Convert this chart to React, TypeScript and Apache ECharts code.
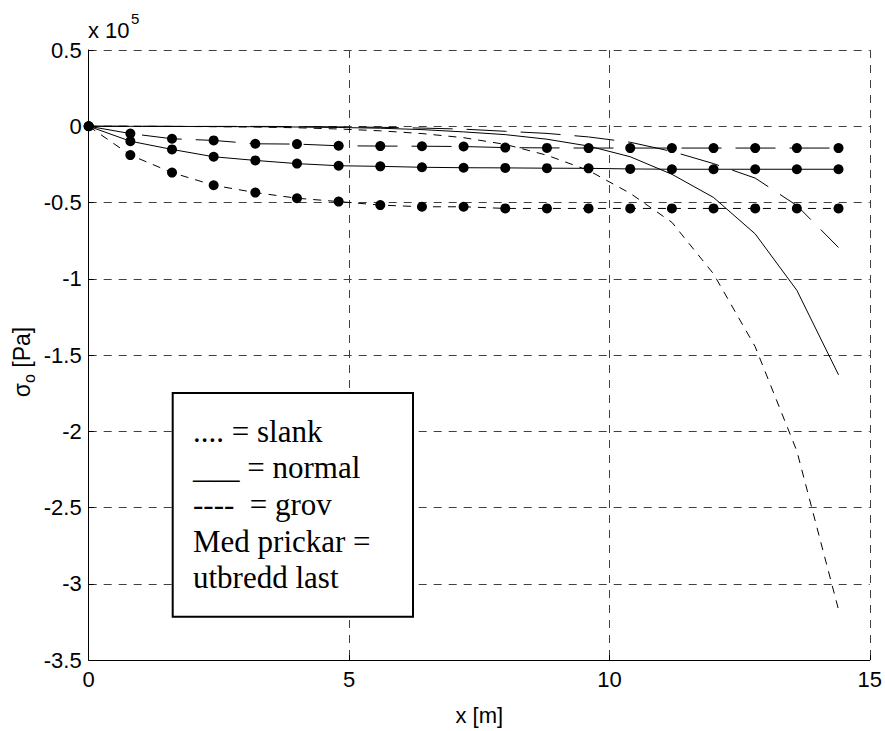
import React, { useEffect, useRef } from "react";
import * as echarts from "echarts";

// x positions [m]
const xs = [0, 0.8, 1.6, 2.4, 3.2, 4.0, 4.8, 5.6, 6.4, 7.2, 8.0, 8.8, 9.6, 10.4, 11.2, 12.0, 12.8, 13.6, 14.4];

// sigma_o values in units of 1e5 Pa
// point loads (no markers)
const slank = [0, 0, -0.001, -0.001, -0.001, -0.002, -0.004, -0.007, -0.012, -0.019, -0.033, -0.047, -0.07, -0.105, -0.165, -0.245, -0.34, -0.52, -0.795];
const normal = [0, -0.0005, -0.001, -0.002, -0.003, -0.005, -0.008, -0.013, -0.022, -0.037, -0.055, -0.085, -0.13, -0.2, -0.315, -0.467, -0.706, -1.076, -1.63];
const grov = [0, 0, -0.001, -0.003, -0.005, -0.01, -0.018, -0.03, -0.048, -0.075, -0.119, -0.19, -0.29, -0.44, -0.63, -0.968, -1.446, -2.13, -3.17];

// distributed loads (with markers)
const slankUtbredd = [0, -0.048, -0.082, -0.093, -0.115, -0.117, -0.128, -0.13, -0.131, -0.133, -0.14, -0.142, -0.143, -0.143, -0.143, -0.143, -0.143, -0.143, -0.143];
const normalUtbredd = [0, -0.098, -0.152, -0.2, -0.224, -0.245, -0.259, -0.263, -0.269, -0.272, -0.273, -0.275, -0.276, -0.28, -0.282, -0.282, -0.282, -0.282, -0.282];
const grovUtbredd = [0, -0.189, -0.304, -0.387, -0.435, -0.472, -0.494, -0.517, -0.528, -0.528, -0.539, -0.539, -0.539, -0.539, -0.539, -0.539, -0.539, -0.539, -0.539];

const legendLines = [".... = slank", "___ = normal", "----  = grov", "Med prickar =", "utbredd last"];

const SANS = "'Liberation Sans', Arial, Helvetica, sans-serif";
const SERIF = "'Liberation Serif', 'Times New Roman', serif";

const toPts = (arr: number[]) => xs.map((x, i) => [x, arr[i]]);

export default function App() {
  const ref = useRef<HTMLDivElement>(null);
  useEffect(() => {
    if (!ref.current) return;
    const chart = echarts.init(ref.current, null, { renderer: "svg" });

    const mk = (name: string, arr: number[], type: any, dots: boolean) => ({
      name,
      type: "line",
      data: toPts(arr),
      symbol: dots ? "circle" : "none",
      symbolSize: 10,
      showSymbol: dots,
      showAllSymbol: true,
      itemStyle: { color: "#000", borderWidth: 0 },
      lineStyle: { color: "#000", width: 1, type },
      emphasis: { disabled: true },
      z: 3,
    });

    const legendTexts = legendLines.map((t, i) => ({
      type: "text",
      x: 193,
      y: 431 + i * 36.7,
      z: 101,
      style: {
        text: t,
        fontSize: 31,
        fontFamily: SERIF,
        fill: "#000",
        align: "left",
        verticalAlign: "middle",
      },
    }));

    chart.setOption({
      animation: false,
      backgroundColor: "#fff",
      grid: { left: 88.7, right: 15, top: 50, bottom: 64.3, containLabel: false },
      xAxis: {
        type: "value",
        min: 0,
        max: 15,
        interval: 5,
        axisLine: { show: true, onZero: false, lineStyle: { color: "#000", width: 1 } },
        axisTick: { show: true, inside: true, length: 5, lineStyle: { color: "#000" } },
        axisLabel: { color: "#000", fontSize: 22, fontFamily: SANS, margin: 8 },
        splitLine: { show: true, lineStyle: { color: "#404040", width: 1, type: [8, 7] } },
        name: "x [m]",
        nameLocation: "middle",
        nameGap: 44,
        nameTextStyle: { color: "#000", fontSize: 22, fontFamily: SANS },
      },
      yAxis: {
        type: "value",
        min: -3.5,
        max: 0.5,
        interval: 0.5,
        axisLine: { show: true, onZero: false, lineStyle: { color: "#000", width: 1 } },
        axisTick: { show: true, inside: true, length: 5, lineStyle: { color: "#000" } },
        axisLabel: { color: "#000", fontSize: 22, fontFamily: SANS, margin: 7 },
        splitLine: { show: true, lineStyle: { color: "#404040", width: 1, type: [8, 7] } },
      },
      series: [
        mk("slank", slank, [40, 14], false),
        mk("normal", normal, "solid", false),
        mk("grov", grov, [8, 7], false),
        mk("slank utbredd", slankUtbredd, [40, 14], true),
        mk("normal utbredd", normalUtbredd, "solid", true),
        mk("grov utbredd", grovUtbredd, [8, 7], true),
      ],
      graphic: [
        {
          type: "text",
          x: 88,
          y: 30,
          style: { text: "x 10", fontSize: 22, fontFamily: SANS, fill: "#000", align: "left", verticalAlign: "middle" },
        },
        {
          type: "text",
          x: 131,
          y: 18,
          style: { text: "5", fontSize: 15, fontFamily: SANS, fill: "#000", align: "left", verticalAlign: "middle" },
        },
        {
          type: "text",
          x: 22,
          y: 362,
          rotation: Math.PI / 2,
          style: {
            text: "{a|σ}{b|o}{a| [Pa]}",
            align: "center",
            verticalAlign: "middle",
            fill: "#000",
            rich: {
              a: { fontSize: 23, fontFamily: SANS, fill: "#000", lineHeight: 30, verticalAlign: "middle" },
              b: { fontSize: 16, fontFamily: SANS, fill: "#000", lineHeight: 30, verticalAlign: "bottom" },
            },
          },
        },
        {
          type: "rect",
          z: 100,
          shape: { x: 172.7, y: 393, width: 240.3, height: 223.7 },
          style: { fill: "#fff", stroke: "#000", lineWidth: 2 },
        },
        ...legendTexts,
      ],
    });
    return () => chart.dispose();
  }, []);
  return <div ref={ref} style={{ position: "absolute", left: 0, top: 0, width: 885, height: 731 }} />;
}
